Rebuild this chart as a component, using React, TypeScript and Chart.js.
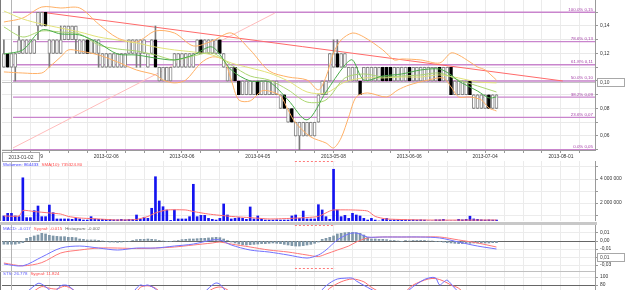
import React, { useEffect, useRef } from 'react';
import { Chart, registerables } from 'chart.js';

Chart.register(...registerables);

const FAMILY = '"Liberation Sans", Arial, sans-serif';
const AXIS_FS = 4.9;
const TEXT_FS = 4.4;
const axisFont = { family: FAMILY, size: AXIS_FS };

const X_MIN = -0.5;
const X_MAX = 156;
const CROSS_INDEX = 2;
const CROSS_PRICE = 0.0995;

const dateTickIndex = [7, 27, 47, 67, 87, 107, 127, 147];
const dateTickLabels = ['2013-01-09', '2013-02-06', '2013-03-06', '2013-04-05', '2013-05-08', '2013-06-06', '2013-07-04', '2013-08-01'];
const crossDateLabel = '2013-01-02';
const crossPriceLabel = '0,10';
const crossMacdLabel = '0,01';

const opens = [
  0.11, 0.12, 0.11, 0.11, 0.12, 0.12, 0.12, 0.12, 0.12, 0.14,
  0.14, 0.15, 0.12, 0.12, 0.12, 0.12, 0.13, 0.13, 0.13, 0.13,
  0.12, 0.12, 0.13, 0.12, 0.12, 0.12, 0.11, 0.11, 0.11, 0.11,
  0.11, 0.11, 0.11, 0.12, 0.12, 0.12, 0.12, 0.12, 0.11, 0.12,
  0.13, 0.10, 0.10, 0.10, 0.10, 0.11, 0.11, 0.11, 0.11, 0.11,
  0.11, 0.12, 0.13, 0.12, 0.12, 0.12, 0.12, 0.13, 0.11, 0.10,
  0.10, 0.11, 0.10, 0.09, 0.09, 0.09, 0.09, 0.10, 0.09, 0.09,
  0.09, 0.09, 0.09, 0.08, 0.09, 0.07, 0.08, 0.06, 0.06, 0.06,
  0.06, 0.06, 0.06, 0.07, 0.09, 0.09, 0.10, 0.11, 0.12, 0.11,
  0.11, 0.10, 0.10, 0.10, 0.10, 0.10, 0.10, 0.10, 0.10, 0.10,
  0.11, 0.11, 0.11, 0.10, 0.10, 0.10, 0.10, 0.11, 0.10, 0.10,
  0.10, 0.10, 0.10, 0.10, 0.10, 0.11, 0.10, 0.10, 0.11, 0.09,
  0.09, 0.09, 0.09, 0.10, 0.08, 0.08, 0.08, 0.08, 0.09, 0.08,
  0.08,
];
const closes = [
  0.12, 0.11, 0.12, 0.12, 0.13, 0.13, 0.13, 0.13, 0.13, 0.15,
  0.15, 0.14, 0.13, 0.13, 0.13, 0.13, 0.14, 0.14, 0.14, 0.14,
  0.13, 0.13, 0.12, 0.13, 0.13, 0.13, 0.12, 0.12, 0.12, 0.12,
  0.12, 0.12, 0.12, 0.13, 0.13, 0.13, 0.13, 0.13, 0.12, 0.13,
  0.11, 0.11, 0.11, 0.11, 0.11, 0.12, 0.12, 0.12, 0.12, 0.12,
  0.12, 0.13, 0.12, 0.13, 0.13, 0.13, 0.13, 0.12, 0.12, 0.11,
  0.11, 0.10, 0.09, 0.10, 0.10, 0.10, 0.10, 0.09, 0.10, 0.10,
  0.10, 0.10, 0.10, 0.09, 0.08, 0.08, 0.07, 0.07, 0.07, 0.07,
  0.07, 0.07, 0.07, 0.09, 0.10, 0.10, 0.12, 0.12, 0.11, 0.12,
  0.12, 0.11, 0.11, 0.11, 0.09, 0.11, 0.11, 0.11, 0.11, 0.11,
  0.10, 0.10, 0.10, 0.11, 0.11, 0.11, 0.11, 0.10, 0.11, 0.11,
  0.11, 0.11, 0.11, 0.11, 0.11, 0.10, 0.11, 0.11, 0.09, 0.10,
  0.10, 0.10, 0.10, 0.09, 0.09, 0.09, 0.09, 0.09, 0.08, 0.09,
  0.09,
];
const highs = [
  0.13, 0.12, 0.12, 0.12, 0.14, 0.13, 0.13, 0.13, 0.13, 0.15,
  0.15, 0.15, 0.13, 0.13, 0.13, 0.14, 0.14, 0.14, 0.14, 0.14,
  0.13, 0.13, 0.13, 0.13, 0.13, 0.13, 0.12, 0.12, 0.12, 0.12,
  0.12, 0.12, 0.12, 0.13, 0.13, 0.13, 0.13, 0.13, 0.12, 0.13,
  0.14, 0.11, 0.11, 0.11, 0.11, 0.12, 0.12, 0.12, 0.12, 0.12,
  0.12, 0.13, 0.13, 0.13, 0.13, 0.13, 0.13, 0.13, 0.12, 0.11,
  0.11, 0.11, 0.10, 0.10, 0.10, 0.10, 0.10, 0.10, 0.10, 0.10,
  0.10, 0.10, 0.10, 0.09, 0.09, 0.08, 0.08, 0.07, 0.07, 0.07,
  0.07, 0.07, 0.07, 0.09, 0.10, 0.10, 0.12, 0.13, 0.13, 0.12,
  0.12, 0.11, 0.11, 0.11, 0.10, 0.11, 0.11, 0.11, 0.11, 0.11,
  0.11, 0.11, 0.11, 0.11, 0.11, 0.11, 0.11, 0.11, 0.11, 0.11,
  0.11, 0.11, 0.11, 0.11, 0.11, 0.11, 0.11, 0.11, 0.11, 0.10,
  0.10, 0.10, 0.10, 0.10, 0.09, 0.09, 0.09, 0.09, 0.09, 0.09,
  0.09,
];
const lows = [
  0.11, 0.11, 0.11, 0.10, 0.12, 0.12, 0.12, 0.12, 0.12, 0.13,
  0.14, 0.14, 0.11, 0.12, 0.12, 0.12, 0.13, 0.13, 0.13, 0.12,
  0.12, 0.12, 0.12, 0.12, 0.12, 0.11, 0.11, 0.11, 0.11, 0.11,
  0.11, 0.11, 0.11, 0.12, 0.12, 0.11, 0.11, 0.12, 0.11, 0.12,
  0.11, 0.10, 0.10, 0.10, 0.10, 0.11, 0.11, 0.11, 0.11, 0.11,
  0.11, 0.12, 0.12, 0.12, 0.12, 0.12, 0.12, 0.12, 0.11, 0.10,
  0.10, 0.10, 0.09, 0.09, 0.09, 0.09, 0.09, 0.09, 0.09, 0.09,
  0.09, 0.09, 0.09, 0.08, 0.08, 0.07, 0.07, 0.06, 0.05, 0.06,
  0.06, 0.06, 0.06, 0.07, 0.09, 0.09, 0.10, 0.11, 0.11, 0.11,
  0.11, 0.10, 0.10, 0.10, 0.09, 0.10, 0.10, 0.10, 0.10, 0.10,
  0.10, 0.10, 0.10, 0.10, 0.10, 0.10, 0.10, 0.10, 0.10, 0.10,
  0.10, 0.10, 0.10, 0.10, 0.10, 0.10, 0.10, 0.10, 0.09, 0.09,
  0.09, 0.09, 0.09, 0.09, 0.08, 0.08, 0.08, 0.08, 0.08, 0.08,
  0.08,
];

// moving averages and Bollinger bands: [bar index, price]
const maFast: [number, number][] = [[0, 0.1196], [5, 0.1226], [10, 0.1371], [15, 0.1342], [20, 0.1335], [25, 0.1276], [30, 0.1196], [35, 0.1189], [40, 0.1167], [45, 0.1153], [50, 0.1189], [55, 0.1247], [60, 0.108], [65, 0.1], [70, 0.0993], [75, 0.0862], [80, 0.0717], [85, 0.092], [90, 0.1116], [92, 0.1153], [95, 0.1007], [100, 0.1036], [105, 0.1051], [110, 0.108], [115, 0.1087], [118, 0.1044], [120, 0.1], [125, 0.0927], [128, 0.0877], [130, 0.0884]];
const maMid: [number, number][] = [[0, 0.1393], [5, 0.132], [10, 0.1364], [15, 0.1356], [20, 0.1342], [25, 0.1262], [30, 0.1233], [35, 0.1218], [40, 0.1189], [45, 0.1153], [50, 0.1182], [55, 0.1204], [60, 0.1116], [65, 0.1036], [70, 0.1007], [75, 0.0935], [80, 0.0847], [85, 0.0862], [90, 0.1022], [95, 0.1051], [100, 0.1029], [105, 0.1036], [110, 0.1044], [115, 0.1058], [120, 0.1007], [125, 0.0964], [130, 0.092]];
const maSlow: [number, number][] = [[0, 0.1509], [5, 0.1451], [10, 0.1414], [15, 0.1385], [20, 0.1356], [25, 0.132], [30, 0.1298], [35, 0.1276], [40, 0.1247], [45, 0.1226], [50, 0.1211], [55, 0.1189], [60, 0.1131], [65, 0.1095], [70, 0.1058], [75, 0.1], [80, 0.092], [85, 0.0913], [90, 0.0993], [95, 0.1022], [100, 0.1022], [105, 0.1029], [110, 0.1029], [115, 0.1044], [120, 0.1022], [125, 0.0993], [130, 0.0986]];
const bandUpper: [number, number][] = [[0, 0.1429], [5, 0.1458], [10, 0.1538], [15, 0.1531], [20, 0.1531], [25, 0.1414], [30, 0.1313], [35, 0.1284], [40, 0.1364], [45, 0.1349], [50, 0.1255], [55, 0.1291], [60, 0.1349], [65, 0.1226], [70, 0.1073], [75, 0.1029], [80, 0.1007], [83, 0.0935], [85, 0.1029], [87, 0.1204], [89, 0.1298], [92, 0.1349], [95, 0.132], [100, 0.1226], [103, 0.1153], [105, 0.116], [110, 0.1153], [115, 0.1131], [118, 0.1204], [120, 0.1189], [123, 0.1138], [125, 0.1102], [127, 0.108], [130, 0.1007]];
const bandLower: [number, number][] = [[0, 0.1066], [5, 0.1058], [10, 0.1058], [12, 0.1102], [15, 0.1175], [17, 0.1226], [20, 0.1218], [25, 0.1189], [30, 0.1138], [35, 0.108], [40, 0.1044], [42, 0.1007], [45, 0.0986], [48, 0.1007], [52, 0.1131], [55, 0.1175], [58, 0.1153], [60, 0.1007], [62, 0.0862], [65, 0.0855], [68, 0.0927], [70, 0.0927], [73, 0.0891], [75, 0.0789], [77, 0.0695], [81, 0.0593], [85, 0.0549], [87, 0.0513], [89, 0.0586], [91, 0.0738], [93, 0.0884], [96, 0.0913], [101, 0.0884], [104, 0.0935], [107, 0.0971], [112, 0.1007], [116, 0.1022], [118, 0.0957], [120, 0.0884], [123, 0.0884], [126, 0.0862], [128, 0.0804], [130, 0.0782]];

const trendDown: [number, number][] = [[10, 0.15], [147.5, 0.1]];
const trendUp: [number, number][] = [[2.4, 0.0513], [71.5, 0.1494]];

const fibLevels = [0.15, 0.1286, 0.1118, 0.1, 0.0882, 0.0736, 0.05];
const fibLabels = ['100.0% 0,15', '78.6% 0,13', '61.8% 0,11', '50.0% 0,10', '38.2% 0,09', '23.6% 0,07', '0.0% 0,05'];
const fibStart = 2.4;

const volumes = [
  920000, 1140000, 1140000, 920000, 860000, 4100000, 780000, 780000, 1360000, 1750000,
  860000, 860000, 1830000, 1190000, 670000, 670000, 670000, 670000, 640000, 720000,
  670000, 580000, 580000, 860000, 670000, 640000, 640000, 640000, 640000, 600000,
  600000, 640000, 600000, 640000, 640000, 1000000, 640000, 810000, 720000, 1560000,
  4190000, 2170000, 1690000, 1420000, 550000, 1420000, 670000, 670000, 670000, 860000,
  3560000, 860000, 970000, 970000, 720000, 640000, 580000, 720000, 1920000, 1000000,
  670000, 720000, 780000, 720000, 640000, 1670000, 670000, 920000, 670000, 580000,
  580000, 580000, 600000, 580000, 580000, 580000, 920000, 1000000, 720000, 1330000,
  670000, 670000, 670000, 1860000, 1420000, 860000, 640000, 4810000, 1420000, 860000,
  970000, 720000, 1140000, 1000000, 920000, 720000, 580000, 720000, 580000, 500000,
  640000, 720000, 580000, 600000, 600000, 580000, 600000, 580000, 600000, 580000,
  600000, 580000, 500000, 500000, 600000, 600000, 640000, 500000, 500000, 500000,
  640000, 600000, 640000, 900000, 670000, 640000, 600000, 580000, 600000, 580000,
  580000,
];
const volumeSma: [number, number][] = [[0, 920000], [4, 920000], [5, 1380000], [8, 1290000], [12, 1170000], [15, 1080000], [17, 880000], [20, 750000], [25, 670000], [30, 580000], [35, 630000], [38, 880000], [40, 1170000], [43, 1420000], [48, 1420000], [50, 1290000], [54, 1080000], [60, 880000], [65, 780000], [70, 670000], [75, 710000], [80, 790000], [83, 880000], [86, 1330000], [87, 1420000], [92, 1420000], [96, 1330000], [98, 880000], [101, 670000], [112, 580000], [130, 580000]];

const macdHist = [
  -0.004, -0.004, -0.004, -0.004, -0.003, -0.002,
  0.0033, 0.0046, 0.0063, 0.0075, 0.0096, 0.0088, 0.0071, 0.0063, 0.0058, 0.0054, 0.0054, 0.0046, 0.0046, 0.0042, 0.0025, 0.0021, 0.0013, 0.0013, 0.0013, 0.0004,
  0, -0.0008, -0.0013, -0.0013, -0.0017, -0.0013, -0.0008, -0.0004,
  0.0008, 0.0017, 0.0021, 0.0021, 0.0025, 0.0021, 0.0017, 0.0008, 0, -0.0008, -0.0008, 0,
  0.0008, 0.0017, 0.0021, 0.0025, 0.0025, 0.0029, 0.0033, 0.0033, 0.0038, 0.0042, 0.0046, 0.0042, 0.0025, 0.0008,
  -0.0013, -0.0025, -0.0038, -0.0046, -0.005, -0.0046, -0.0042, -0.0038, -0.0033, -0.0033, -0.0029, -0.0025, -0.0029, -0.0033, -0.0042, -0.005, -0.0058, -0.0063, -0.0063, -0.0058, -0.005, -0.0042, -0.0029, -0.0013,
  0.0021, 0.0033, 0.0046, 0.0063, 0.0088, 0.0096, 0.0104, 0.0108, 0.0108, 0.0104, 0.0096, 0.0075, 0.0046,
  0.0025, 0.0025, 0.0021, 0.0021, 0.0017,
  0.0008, 0.0004, 0, -0.0004, 0.0004, 0, 0.0004, 0.0004, 0.0004, 0.0004, 0, 0, -0.0004, -0.0004,
  -0.0013, -0.0021, -0.0025, -0.0029, -0.0033, -0.0033, -0.0029, -0.0029, -0.0025, -0.0025, -0.0025, -0.0025, -0.0025, -0.0021, -0.0021,
];
const macdLine: [number, number][] = [[0, -0.0288], [5, -0.031], [10, -0.02], [15, -0.0088], [20, -0.0063], [25, -0.0088], [30, -0.0113], [35, -0.0088], [40, -0.0088], [45, -0.0063], [50, -0.0038], [55, 0.0013], [57, 0.0013], [60, -0.005], [65, -0.0113], [70, -0.0138], [75, -0.0175], [80, -0.0213], [83, -0.0175], [85, -0.0113], [88, 0.0013], [91, 0.0088], [93, 0.01], [96, 0.005], [100, 0.005], [105, 0.005], [110, 0.005], [115, 0.0038], [120, -0.0013], [125, -0.0063], [130, -0.01]];
const macdSignal: [number, number][] = [[0, -0.0275], [5, -0.031], [10, -0.027], [15, -0.015], [20, -0.0113], [25, -0.0088], [30, -0.0088], [35, -0.0094], [40, -0.0088], [45, -0.0075], [50, -0.005], [55, -0.0025], [57, -0.0013], [60, -0.0038], [65, -0.0075], [70, -0.0113], [75, -0.0138], [80, -0.0175], [83, -0.0194], [85, -0.0163], [88, -0.0113], [91, -0.0063], [93, -0.0013], [96, 0.0038], [100, 0.005], [105, 0.005], [110, 0.005], [115, 0.005], [120, 0.0013], [125, -0.0025], [130, -0.0075]];

const stsK: [number, number][] = [[0, 40], [5, 55], [7, 70], [9, 84], [10, 82], [12, 68], [13, 60], [15, 78], [16, 80], [17, 78], [19, 62], [22, 40], [28, 25], [33, 50], [35, 72], [36, 80], [37, 78], [38, 80], [40, 70], [43, 40], [48, 35], [52, 55], [55, 80], [56, 85], [57, 82], [59, 60], [63, 30], [70, 20], [77, 10], [82, 30], [84, 68], [86, 85], [88, 95], [90, 97], [92, 97], [93, 90], [96, 74], [99, 60], [104, 55], [107, 68], [108, 76], [111, 94], [113, 99], [114, 97], [115, 80], [116, 87], [117, 92], [119, 72], [121, 55], [125, 40], [130, 27]];
const stsD: [number, number][] = [[0, 38], [5, 45], [8, 65], [10, 76], [12, 72], [14, 70], [16, 77], [18, 70], [20, 55], [25, 35], [33, 40], [36, 74], [38, 78], [40, 72], [43, 50], [50, 40], [55, 70], [57, 75], [59, 68], [63, 40], [75, 15], [84, 55], [86, 72], [89, 88], [92, 95], [95, 88], [97, 74], [100, 60], [105, 58], [108, 80], [112, 95], [114, 96], [116, 90], [118, 80], [120, 72], [124, 40], [130, 12]];

const volumeLegend: [string, string][] = [['Wolumen: 864433', '#3a3aff'], ['SMA(10): 735324.80', '#ff4a4a']];
const macdLegend: [string, string][] = [['MACD: -0.017', '#5a5aff'], ['Sygnał: -0.015', '#ff4a4a'], ['Histogram: -0.002', '#666666']];
const stsLegend: [string, string][] = [['STS: 26.778', '#5a5aff'], ['Sygnał: 11.824', '#ff4a4a']];

// ---------- helpers ----------
function noPad(s: any) {
  s.paddingTop = 0; s.paddingBottom = 0; s.paddingLeft = 0; s.paddingRight = 0;
}

function xAxis(withLabels: boolean): any {
  return {
    type: 'linear', min: X_MIN, max: X_MAX, offset: false, position: 'bottom',
    afterBuildTicks: (s: any) => {
      const t: any[] = [];
      for (let v = 2; v <= X_MAX; v += 5) t.push({ value: v });
      s.ticks = t;
    },
    afterFit: (s: any) => { s.height = withLabels ? 13 : 0; noPad(s); },
    grid: { color: '#ebebeb', offset: false, drawTicks: withLabels, tickLength: 3, tickColor: '#9a9a9a' },
    border: { display: withLabels, color: '#9a9a9a' },
    ticks: {
      display: withLabels, autoSkip: false, maxRotation: 0, minRotation: 0, padding: 1,
      font: axisFont, color: '#333',
      callback: (v: number) => { const k = dateTickIndex.indexOf(v); return k >= 0 ? dateTickLabels[k] : ''; },
    },
  };
}

function yAxis(min: number, max: number, tickVals: number[], label: (v: number) => string, gridColor: (v: number) => string): any {
  return {
    type: 'linear', position: 'right', min, max,
    afterBuildTicks: (s: any) => { s.ticks = tickVals.map((v) => ({ value: v })); },
    afterFit: (s: any) => { s.width = 30; noPad(s); },
    grid: { color: (c: any) => gridColor(c.tick ? c.tick.value : NaN), tickLength: 3, tickColor: '#9a9a9a' },
    border: { color: '#9a9a9a' },
    ticks: { autoSkip: false, padding: 2, font: axisFont, color: '#333', callback: (v: number) => label(v) },
  };
}

const lineDs = (pairs: [number, number][], color: string, width = 1, tension = 0.3): any => ({
  type: 'line',
  data: pairs.map(([x, y]) => ({ x, y })),
  borderColor: color, borderWidth: width, pointRadius: 0, fill: false, tension,
});

function baseOptions(scales: any): any {
  return {
    responsive: false, maintainAspectRatio: false, animation: false, devicePixelRatio: 1, events: [],
    layout: { padding: { left: 2, right: 0, top: 0, bottom: 0 } },
    plugins: { legend: { display: false }, tooltip: { enabled: false } },
    scales,
  };
}

function drawLegend(ctx: CanvasRenderingContext2D, items: [string, string][], x0: number, y: number) {
  ctx.font = `${TEXT_FS}px ${FAMILY}`;
  ctx.textBaseline = 'middle';
  ctx.textAlign = 'left';
  let x = x0;
  items.forEach(([t, c]) => {
    ctx.fillStyle = c;
    ctx.fillText(t, x, y);
    x += ctx.measureText(t).width + 3;
  });
}

function drawCrossV(chart: any) {
  const { ctx, chartArea: ca, scales } = chart;
  const cx = Math.round(scales.x.getPixelForValue(CROSS_INDEX)) + 0.5;
  ctx.save();
  ctx.strokeStyle = '#b4b4b4';
  ctx.lineWidth = 1;
  ctx.beginPath(); ctx.moveTo(cx, ca.top); ctx.lineTo(cx, ca.bottom); ctx.stroke();
  ctx.strokeStyle = '#7a7a7a';
  ctx.beginPath(); ctx.moveTo(0.5, 0); ctx.lineTo(0.5, chart.height); ctx.stroke();
  ctx.restore();
}

function drawDotted(chart: any, y: number) {
  const { ctx, scales } = chart;
  ctx.save();
  ctx.strokeStyle = '#ff7a7a';
  ctx.lineWidth = 1;
  ctx.setLineDash([2, 2]);
  ctx.beginPath();
  ctx.moveTo(scales.x.getPixelForValue(76.8), y);
  ctx.lineTo(scales.x.getPixelForValue(87.4), y);
  ctx.stroke();
  ctx.restore();
}

function drawBox(ctx: CanvasRenderingContext2D, x: number, y: number, w: number, h: number, text: string, align: 'left' | 'center') {
  ctx.save();
  ctx.fillStyle = '#ffffff';
  ctx.fillRect(x, y, w, h);
  ctx.strokeStyle = '#a8a8a8';
  ctx.lineWidth = 1;
  ctx.strokeRect(x + 0.5, y + 0.5, w - 1, h - 1);
  ctx.fillStyle = '#444';
  ctx.font = `${AXIS_FS}px ${FAMILY}`;
  ctx.textBaseline = 'middle';
  ctx.textAlign = align;
  ctx.fillText(text, align === 'center' ? x + w / 2 : x + 3, y + h / 2 + 0.5);
  ctx.restore();
}

const fmtComma = (v: number) => v.toFixed(2).replace('.', ',');
const fmtSpaces = (v: number) => String(Math.round(v)).replace(/\B(?=(\d{3})+(?!\d))/g, ' ');

// ---------- configs ----------
function mainConfig(): any {
  const priceTicks: number[] = [];
  for (let c = 5; c <= 15; c++) priceTicks.push(c / 100);
  const isDown = (i: number) => closes[i] < opens[i];
  const datasets: any[] = [
    lineDs(maFast, '#4aac4a'),
    lineDs(maMid, '#acd672'),
    lineDs(maSlow, '#e2e27a'),
    lineDs(bandUpper, '#ffb066'),
    lineDs(bandLower, '#ffb066'),
    {
      type: 'bar',
      data: opens.map((o, i) => ({ x: i, y: [Math.min(o, closes[i]), Math.max(o, closes[i])] })),
      backgroundColor: opens.map((_, i) => (isDown(i) ? '#000000' : '#ffffff')),
      borderColor: opens.map((_, i) => (isDown(i) ? '#000000' : '#858585')),
      borderWidth: 1, borderSkipped: false, barThickness: 3, grouped: false,
    },
    {
      type: 'bar',
      data: highs.map((h, i) => ({ x: i, y: [lows[i], h] })),
      backgroundColor: '#7a7a7a', borderWidth: 0, barThickness: 1, grouped: false,
    },
    lineDs(trendDown, '#ff6a6a', 1, 0),
    lineDs(trendUp, '#ffbcbc', 1, 0),
    ...fibLevels.map((lv) => lineDs([[fibStart, lv], [X_MAX, lv]], '#c985cd', 1.3, 0)),
  ];
  const plugin = {
    id: 'mainDecor',
    beforeDatasetsDraw(chart: any) {
      const { ctx, chartArea: ca, scales } = chart;
      drawCrossV(chart);
      const cy = Math.round(scales.y.getPixelForValue(CROSS_PRICE)) + 0.5;
      ctx.save();
      ctx.strokeStyle = '#c4c4c4';
      ctx.beginPath(); ctx.moveTo(ca.left, cy); ctx.lineTo(ca.right, cy); ctx.stroke();
      ctx.restore();
    },
    afterDraw(chart: any) {
      const { ctx, chartArea: ca, scales } = chart;
      ctx.save();
      ctx.font = `${TEXT_FS}px ${FAMILY}`;
      ctx.textAlign = 'right';
      ctx.textBaseline = 'bottom';
      ctx.fillStyle = '#a541a8';
      fibLevels.forEach((lv, k) => ctx.fillText(fibLabels[k], ca.right - 2, scales.y.getPixelForValue(lv) - 0.5));
      ctx.restore();
      const cy = Math.round(scales.y.getPixelForValue(CROSS_PRICE));
      drawBox(ctx, ca.right + 2, cy - 4, chart.width - ca.right - 2, 9, crossPriceLabel, 'left');
      drawBox(ctx, ca.left, ca.bottom + 2, 38, 10, crossDateLabel, 'center');
    },
  };
  return {
    type: 'bar',
    data: { datasets },
    options: baseOptions({
      x: xAxis(true),
      y: yAxis(0.0498, 0.1589, priceTicks, (v) => (Math.round(v * 100) % 2 === 0 ? fmtComma(v) : ''), () => '#e9e9e9'),
    }),
    plugins: [plugin],
  };
}

function volumeConfig(): any {
  const datasets: any[] = [
    lineDs(volumeSma, '#ff6e6e', 1, 0.2),
    {
      type: 'bar',
      data: volumes.map((v, i) => ({ x: i, y: v })),
      backgroundColor: '#1414f0', borderWidth: 0, barThickness: 2, grouped: false,
    },
  ];
  const plugin = {
    id: 'volDecor',
    beforeDatasetsDraw(chart: any) { drawCrossV(chart); },
    afterDraw(chart: any) {
      drawLegend(chart.ctx, volumeLegend, 3, 3.5);
      drawDotted(chart, 0.5);
    },
  };
  return {
    type: 'bar',
    data: { datasets },
    options: baseOptions({
      x: xAxis(false),
      y: yAxis(500000, 5500000, [1000000, 2000000, 3000000, 4000000, 5000000], (v) => (v % 2000000 === 0 ? fmtSpaces(v) : ''), () => '#ececec'),
    }),
    plugins: [plugin],
  };
}

function macdConfig(): any {
  const datasets: any[] = [
    lineDs(macdLine, '#7272ff', 1, 0.3),
    lineDs(macdSignal, '#ff7878', 1, 0.3),
    {
      type: 'bar',
      data: macdHist.map((v, i) => ({ x: i, y: v })),
      backgroundColor: '#7f97a8', borderWidth: 0, barThickness: 2, grouped: false,
    },
  ];
  const plugin = {
    id: 'macdDecor',
    beforeDatasetsDraw(chart: any) { drawCrossV(chart); },
    afterDraw(chart: any) {
      const { ctx, chartArea: ca, scales } = chart;
      drawLegend(ctx, macdLegend, 3, 3.5);
      drawDotted(chart, 0.5);
      drawDotted(chart, 43.5);
      const by = Math.round(scales.y.getPixelForValue(-0.02));
      drawBox(ctx, ca.right + 2, by - 4, chart.width - ca.right - 2, 9, crossMacdLabel, 'left');
    },
  };
  return {
    type: 'bar',
    data: { datasets },
    options: baseOptions({
      x: xAxis(false),
      y: yAxis(-0.0375, 0.02, [0.01, 0, -0.01, -0.02, -0.03], (v) => fmtComma(v), (v) => (v === 0 ? '#666666' : '#ececec')),
    }),
    plugins: [plugin],
  };
}

function stsConfig(): any {
  const datasets: any[] = [
    lineDs(stsK, '#6a6aff', 1, 0.3),
    lineDs(stsD, '#ff6e6e', 1, 0.3),
  ];
  const plugin = {
    id: 'stsDecor',
    beforeDatasetsDraw(chart: any) {
      drawCrossV(chart);
      const { ctx, chartArea: ca } = chart;
      ctx.save();
      ctx.strokeStyle = '#c0c0c0';
      ctx.beginPath(); ctx.moveTo(0, 0.5); ctx.lineTo(ca.right, 0.5); ctx.stroke();
      ctx.restore();
    },
    afterDraw(chart: any) { drawLegend(chart.ctx, stsLegend, 3, 3); },
  };
  return {
    type: 'line',
    data: { datasets },
    options: baseOptions({
      x: xAxis(false),
      y: yAxis(-7.5, 115, [20, 80, 100], (v) => String(v), (v) => (v === 80 || v === 20 ? '#666666' : '#ececec')),
    }),
    plugins: [plugin],
  };
}

export default function App() {
  const mainRef = useRef<HTMLCanvasElement>(null);
  const volRef = useRef<HTMLCanvasElement>(null);
  const macdRef = useRef<HTMLCanvasElement>(null);
  const stsRef = useRef<HTMLCanvasElement>(null);

  useEffect(() => {
    const charts: Chart[] = [];
    if (mainRef.current) charts.push(new Chart(mainRef.current, mainConfig()));
    if (volRef.current) charts.push(new Chart(volRef.current, volumeConfig()));
    if (macdRef.current) charts.push(new Chart(macdRef.current, macdConfig()));
    if (stsRef.current) charts.push(new Chart(stsRef.current, stsConfig()));
    return () => charts.forEach((c) => c.destroy());
  }, []);

  const abs = (top: number, height: number): React.CSSProperties => ({ position: 'absolute', left: 0, top, width: 625, height });

  return (
    <div style={{ position: 'fixed', left: 0, top: 0, width: 625, height: 290, overflow: 'hidden', background: '#ffffff' }}>
      <canvas ref={mainRef} width={625} height={163} style={abs(0, 163)} />
      <canvas ref={volRef} width={625} height={60} style={abs(161, 60)} />
      <div style={{ position: 'absolute', left: 0, top: 222, width: 597, height: 3, background: '#c8c8c8' }} />
      <canvas ref={macdRef} width={625} height={46} style={abs(225, 46)} />
      <canvas ref={stsRef} width={625} height={49} style={abs(271, 49)} />
    </div>
  );
}
